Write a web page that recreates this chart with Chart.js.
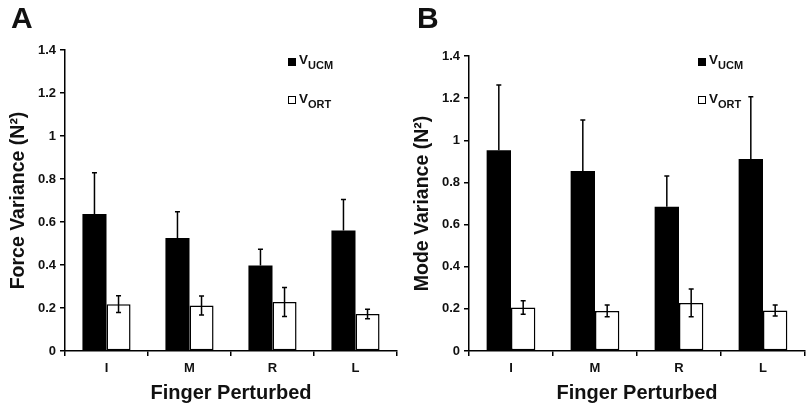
<!DOCTYPE html>
<html><head><meta charset="utf-8">
<script src="https://cdn.jsdelivr.net/npm/chart.js@4.4.1/dist/chart.umd.min.js"></script>
<style>
html,body{margin:0;padding:0;background:#fff;}
body{width:807px;height:407px;position:relative;overflow:hidden;font-family:"Liberation Sans",Arial,sans-serif;font-weight:bold;color:#111;}
.cv{position:absolute;top:0;height:407px;}
.plab{position:absolute;font-size:30px;line-height:30px;font-weight:bold;}
.lg{position:absolute;font-size:13.5px;line-height:13px;white-space:nowrap;}
.lg .sq{position:absolute;width:8px;height:8px;box-sizing:border-box;}
.lg .tx{position:absolute;}
.lg sub{font-size:11px;vertical-align:-5px;line-height:0;}
</style>
</head><body>
<div class="cv" style="left:0;width:404px;"><canvas id="cA" width="404" height="407"></canvas></div>
<div class="cv" style="left:404px;width:403px;"><canvas id="cB" width="403" height="407"></canvas></div>
<div class="plab" style="left:11px;top:3px;">A</div>
<div class="plab" style="left:417px;top:3px;">B</div>
<div id="legA"></div><div id="legB"></div>
<script>
const categories = ['I', 'M', 'R', 'L'];
const seriesNames = ['UCM', 'ORT'];
const forceUcm    = [0.637, 0.526, 0.398, 0.560];
const forceUcmErr = [0.192, 0.122, 0.075, 0.145];
const forceOrt    = [0.218, 0.212, 0.228, 0.172];
const forceOrtErr = [0.039, 0.044, 0.067, 0.022];
const modeUcm     = [0.953, 0.854, 0.684, 0.911];
const modeUcmErr  = [0.309, 0.242, 0.147, 0.296];
const modeOrt     = [0.206, 0.190, 0.228, 0.192];
const modeOrtErr  = [0.032, 0.028, 0.066, 0.026];
const yTicks = ['0', '0.2', '0.4', '0.6', '0.8', '1', '1.2', '1.4'];

const FONT = '"Liberation Sans", Arial, sans-serif';

const errorBars = {
  id: 'errorBars',
  afterDatasetsDraw(chart) {
    const ctx = chart.ctx, ys = chart.scales.y;
    chart.data.datasets.forEach((ds, i) => {
      const meta = chart.getDatasetMeta(i);
      meta.data.forEach((bar, j) => {
        const v = ds.data[j], e = ds.errors[j];
        const top = ys.getPixelForValue(v + e);
        const bot = ds.oneSided ? ys.getPixelForValue(v) : ys.getPixelForValue(v - e);
        ctx.save();
        ctx.strokeStyle = '#000';
        ctx.lineWidth = 1.5;
        ctx.beginPath();
        ctx.moveTo(bar.x, top); ctx.lineTo(bar.x, bot);
        ctx.moveTo(bar.x - 2.5, top); ctx.lineTo(bar.x + 2.5, top);
        if (!ds.oneSided) { ctx.moveTo(bar.x - 2.5, bot); ctx.lineTo(bar.x + 2.5, bot); }
        ctx.stroke();
        ctx.restore();
      });
    });
  }
};

function makeChart(id, ucm, ucmErr, ort, ortErr, yTitle, pad) {
  return new Chart(document.getElementById(id), {
    type: 'bar',
    data: {
      labels: categories,
      datasets: [
        { label: seriesNames[0], data: ucm, errors: ucmErr, oneSided: true,
          backgroundColor: '#000', borderWidth: 0,
          categoryPercentage: 0.58, barPercentage: 1.0 },
        { label: seriesNames[1], data: ort, errors: ortErr, oneSided: false,
          backgroundColor: '#fff', borderColor: '#000', borderWidth: 1.5, borderSkipped: false,
          categoryPercentage: 0.58, barPercentage: 1.0 }
      ]
    },
    options: {
      responsive: false,
      animation: false,
      layout: { padding: pad },
      plugins: { legend: { display: false }, tooltip: { enabled: false } },
      scales: {
        x: {
          grid: { offset: true, drawOnChartArea: false, drawTicks: true, tickLength: 5, color: '#000', lineWidth: 1.5 },
          border: { color: '#000', width: 1.5 },
          ticks: { color: '#111', font: { family: FONT, size: 13, weight: 'bold' }, padding: 5 },
          title: { display: true, text: 'Finger Perturbed', color: '#111',
                   font: { family: FONT, size: 20, weight: 'bold' }, padding: { top: 0, bottom: 2 } },
          afterFit(s) { s.height = 56; }
        },
        y: {
          min: 0, max: 1.4,
          grid: { drawOnChartArea: false, drawTicks: true, tickLength: 5, color: '#000', lineWidth: 1.5 },
          border: { color: '#000', width: 1.5 },
          ticks: { stepSize: 0.2, color: '#111', font: { family: FONT, size: 13, weight: 'bold' }, padding: 4,
                   callback: (v, i) => yTicks[i] },
          title: { display: true, text: yTitle, color: '#111',
                   font: { family: FONT, size: 19.5, weight: 'bold' }, padding: { top: 7, bottom: 0 } },
          afterFit(s) { s.width = 65; }
        }
      }
    },
    plugins: [errorBars]
  });
}

makeChart('cA', forceUcm, forceUcmErr, forceOrt, forceOrtErr, 'Force Variance (N\u00B2)', { left: 0, right: 7, top: 50, bottom: 0 });
makeChart('cB', modeUcm, modeUcmErr, modeOrt, modeOrtErr, 'Mode Variance (N\u00B2)', { left: 0, right: 2, top: 56, bottom: 0 });

function legend(elId, x) {
  const el = document.getElementById(elId);
  el.innerHTML =
    '<div class="lg" style="left:' + x + 'px;top:0;">' +
      '<div class="sq" style="left:0;top:58px;background:#000;"></div>' +
      '<div class="tx" style="left:11px;top:53px;">V<sub>' + seriesNames[0] + '</sub></div>' +
      '<div class="sq" style="left:0;top:96px;background:#fff;border:1.5px solid #000;"></div>' +
      '<div class="tx" style="left:11px;top:92px;">V<sub>' + seriesNames[1] + '</sub></div>' +
    '</div>';
}
legend('legA', 288);
legend('legB', 698);
</script>
</body></html>
